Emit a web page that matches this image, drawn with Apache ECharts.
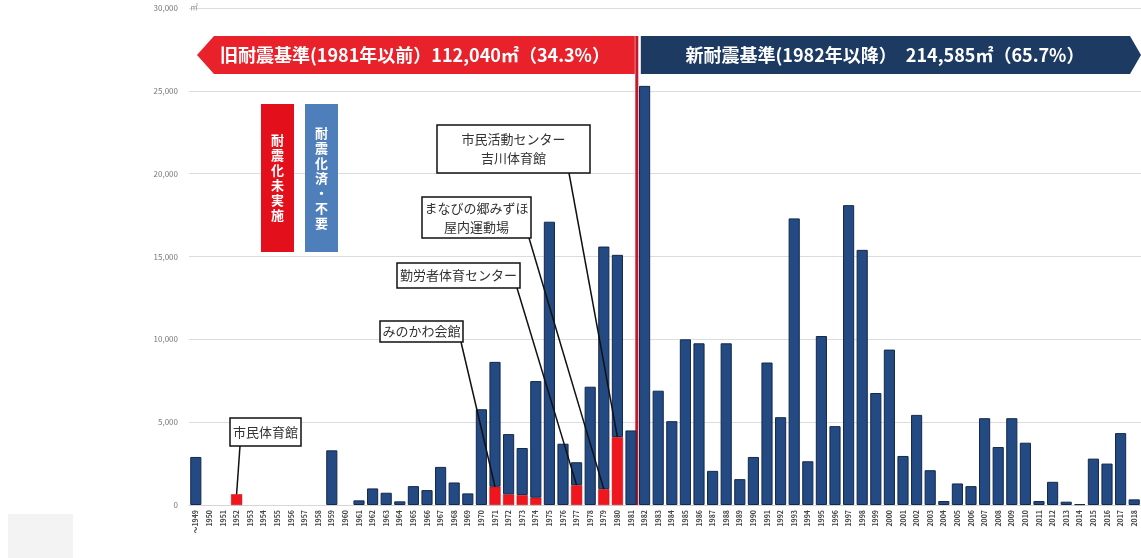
<!DOCTYPE html>
<html>
<head>
<meta charset="utf-8">
<script src="https://cdn.jsdelivr.net/npm/echarts@6/dist/echarts.min.js"></script>
<style>
html, body { margin: 0; padding: 0; background: #fff; }
#chart { width: 1141px; height: 558px; }
</style>
</head>
<body>
<div id="chart"></div>
<script>
// 建築年度
var years = ['～1949'];
for (var y = 1950; y <= 2018; y++) years.push(String(y));

// 延床面積 合計(㎡)
var totalArea = [
	2900, 0, 0, 650, 0, 0, 0, 0, 0, 0,
	3300, 0, 280, 1000, 740, 220, 1140, 900, 2300, 1360,
	700, 5780, 8640, 4280, 3440, 7480, 17100, 3700, 2580, 7140,
	15600, 15100, 4500, 25300, 6900, 5060, 10000, 9760, 2060, 9760,
	1560, 2900, 8600, 5300, 17300, 2640, 10200, 4760, 18100, 15400,
	6760, 9380, 2960, 5440, 2100, 240, 1300, 1140, 5240, 3500,
	5240, 3760, 240, 1400, 200, 50, 2800, 2500, 4340, 340
];
// うち耐震化未実施(㎡)
var notRetrofitted = [
	0, 0, 0, 650, 0, 0, 0, 0, 0, 0,
	0, 0, 0, 0, 0, 0, 0, 0, 0, 0,
	0, 0, 1100, 640, 600, 440, 0, 0, 1200, 0,
	960, 4100, 0, 0, 0, 0, 0, 0, 0, 0,
	0, 0, 0, 0, 0, 0, 0, 0, 0, 0,
	0, 0, 0, 0, 0, 0, 0, 0, 0, 0,
	0, 0, 0, 0, 0, 0, 0, 0, 0, 0
];
var yTicks = [0, 5000, 10000, 15000, 20000, 25000, 30000];

// 吹き出し
var callouts = [
	{ text: '市民体育館', year: '1952', box: [230, 418, 71, 28], from: [240, 446] },
	{ text: 'みのかわ会館', year: '1971', box: [380, 321, 83, 21], from: [461, 342] },
	{ text: '勤労者体育センター', year: '1977', box: [397, 263, 123, 25], from: [517, 288] },
	{ text: 'まなびの郷みずほ\n屋内運動場', year: '1979', box: [422, 197, 109, 41], from: [529, 238] },
	{ text: '市民活動センター\n吉川体育館', year: '1980', box: [437, 125, 153, 48], from: [569, 173] }
];

var retrofitted = totalArea.map(function(v, i) { return v - notRetrofitted[i]; });
function skipZero(v) { return v === 0 ? '-' : v; }

var myChart = echarts.init(document.getElementById('chart'));
var font = '"Noto Sans CJK JP", "Noto Sans", sans-serif';
var option = {
	animation : false,
	textStyle : { fontFamily : font },
	grid : {
		left : 189,
		right : 0,
		top : 8,
		bottom : 53
	},
	xAxis : {
		type : 'category',
		data : years,
		axisTick : { show : false },
		axisLine : { lineStyle : { color : '#d6d6d6' } },
		axisLabel : {
			interval : 0,
			rotate : 90,
			fontSize : 7,
			color : '#444',
			fontWeight : 'bold',
			margin : 5
		}
	},
	yAxis : {
		type : 'value',
		min : yTicks[0],
		max : yTicks[yTicks.length - 1],
		interval : 5000,
		axisLine : { show : false },
		axisTick : { show : false },
		splitLine : { lineStyle : { color : '#dcdcdc' } },
		axisLabel : {
			fontSize : 8,
			color : '#777',
			margin : 11,
			formatter : function(v) { return v.toLocaleString('en-US'); }
		}
	},
	series : [ {
		name : '耐震化未実施',
		type : 'bar',
		stack : 'area',
		barCategoryGap : '18%',
		data : notRetrofitted.map(skipZero),
		itemStyle : { color : '#f0161d', borderColor : '#b01018', borderWidth : 0.5 }
	}, {
		name : '耐震化済・不要',
		type : 'bar',
		stack : 'area',
		data : retrofitted.map(skipZero),
		itemStyle : { color : '#234a82', borderColor : '#15294a', borderWidth : 1 }
	} ]
};
myChart.setOption(option);

// 注記類
var zeroY = myChart.convertToPixel({ yAxisIndex : 0 }, 0);
var x81 = myChart.convertToPixel({ xAxisIndex : 0 }, '1981');
var x82 = myChart.convertToPixel({ xAxisIndex : 0 }, '1982');
var divX = (x81 + x82) / 2 - 1;

var g = [];
// 左下の灰色ブロック
g.push({ type : 'rect', shape : { x : 8, y : 514, width : 65, height : 44 }, style : { fill : '#f3f3f3' } });
// 単位
g.push({ type : 'text', x : 190, y : 3, style : { text : '㎡', fontSize : 8, fill : '#999', fontFamily : font } });

// 旧耐震/新耐震 バナー
g.push({
	type : 'polygon',
	shape : { points : [ [197, 55], [214, 36], [divX - 2, 36], [divX - 2, 74], [214, 74] ] },
	style : { fill : '#e8212a' }
});
g.push({
	type : 'text', x : 415, y : 55,
	style : { text : '旧耐震基準(1981年以前）112,040㎡（34.3%）', fill : '#fff', fontSize : 18, fontWeight : 'bold',
		align : 'center', verticalAlign : 'middle', fontFamily : font }
});
g.push({
	type : 'polygon',
	shape : { points : [ [divX + 4, 36], [1130, 36], [1141, 55], [1130, 74], [divX + 4, 74] ] },
	style : { fill : '#1d3a62' }
});
g.push({
	type : 'text', x : 885, y : 55,
	style : { text : '新耐震基準(1982年以降）　214,585㎡（65.7%）', fill : '#fff', fontSize : 18, fontWeight : 'bold',
		align : 'center', verticalAlign : 'middle', fontFamily : font }
});
// 区切り線
g.push({
	type : 'line',
	shape : { x1 : divX, y1 : 36, x2 : divX, y2 : zeroY },
	style : { stroke : '#c4182c', lineWidth : 3 }
});

// 凡例(縦書き)
function vbox(x, color, label) {
	g.push({ type : 'rect', shape : { x : x, y : 104, width : 33, height : 148 }, style : { fill : color } });
	g.push({
		type : 'text', x : x + 16.5, y : 178,
		style : { text : label.split('').join('\n'), fill : '#fff', fontSize : 13, lineHeight : 15,
			fontWeight : 'bold', align : 'center', verticalAlign : 'middle', fontFamily : font }
	});
}
vbox(261, '#e3101b', '耐震化未実施');
vbox(305, '#4f7fbb', '耐震化済・不要');

// 吹き出し
callouts.forEach(function(c) {
	var idx = years.indexOf(c.year);
	var to = myChart.convertToPixel({ xAxisIndex : 0, yAxisIndex : 0 }, [idx, notRetrofitted[idx]]);
	g.push({
		type : 'line',
		shape : { x1 : c.from[0], y1 : c.from[1], x2 : to[0], y2 : to[1] },
		style : { stroke : '#111', lineWidth : 1.5 },
		z : 10
	});
	g.push({
		type : 'rect',
		shape : { x : c.box[0], y : c.box[1], width : c.box[2], height : c.box[3] },
		style : { fill : '#fff', stroke : '#111', lineWidth : 1.5 },
		z : 11
	});
	g.push({
		type : 'text', x : c.box[0] + c.box[2] / 2, y : c.box[1] + c.box[3] / 2,
		style : { text : c.text, fontSize : 13, lineHeight : 19, fill : '#333', align : 'center',
			verticalAlign : 'middle', fontFamily : font },
		z : 12
	});
});

myChart.setOption({ graphic : g });
</script>
</body>
</html>
